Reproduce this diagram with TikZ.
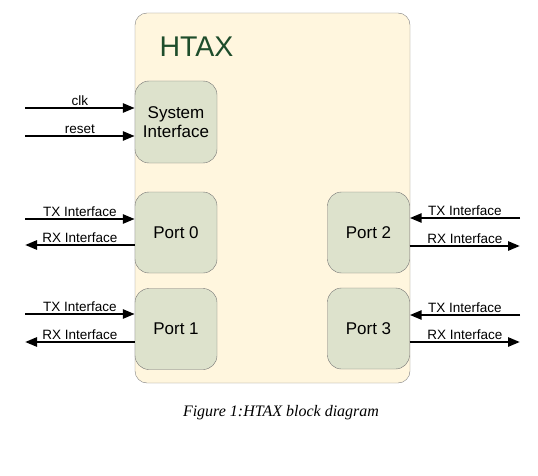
\documentclass[tikz,border=0pt]{standalone}
\usepackage{fontspec}
\setmainfont{Liberation Serif}
\newfontfamily\arial{Liberation Sans}
\usetikzlibrary{arrows.meta}
\definecolor{htaxfill}{HTML}{FFF6DE}
\definecolor{portfill}{HTML}{DDE2CC}
\definecolor{htaxgreen}{HTML}{1E4D2B}
\tikzset{
  block/.style={draw=gray!90!black,fill=portfill,rounded corners=14pt,minimum width=82pt,minimum height=81pt,align=center,font=\arial\fontsize{17}{19}\selectfont},
  sig/.style={line width=2.6pt,-{Triangle[length=12pt,width=9pt]}},
  lbl/.style={above,inner sep=1.5pt,font=\arial\fontsize{13.5}{15}\selectfont}
}
\begin{document}
\begin{tikzpicture}[x=1pt,y=-1pt]
 \useasboundingbox (0,0) rectangle (538,476);
 \draw[gray,fill=htaxfill,rounded corners=12pt] (135,13) rectangle (410,383);
 \node[text=htaxgreen,font=\arial\fontsize{28.5}{30}\selectfont,anchor=west] (title) at (156,47) {HTAX};
 \node[block,minimum height=82pt] (sys) at (176,122) {System\\Interface};
 \node[block] (port0) at (176,232.5) {Port 0};
 \node[block] (port1) at (176,329) {Port 1};
 \node[block] (port2) at (368.5,232.5) {Port 2};
 \node[block] (port3) at (368.5,328.5) {Port 3};
 % free ends
 \coordinate (clk) at (25,108);
 \coordinate (reset) at (25,136);
 \coordinate (tx0) at (25,219);
 \coordinate (rx0) at (25,245);
 \coordinate (tx1) at (25,314);
 \coordinate (rx1) at (25,342);
 \coordinate (tx2) at (520,218);
 \coordinate (rx2) at (520,246);
 \coordinate (tx3) at (520,315);
 \coordinate (rx3) at (520,342);
 % left side
 \draw[sig] (clk) -- (clk -| sys.west) node[lbl,midway] {clk};
 \draw[sig] (reset) -- (reset -| sys.west) node[lbl,midway] {reset};
 \draw[sig] (tx0) -- (tx0 -| port0.west) node[lbl,midway] {TX Interface};
 \draw[sig] (rx0 -| port0.west) -- (rx0) node[lbl,midway] {RX Interface};
 \draw[sig] (tx1) -- (tx1 -| port1.west) node[lbl,midway] {TX Interface};
 \draw[sig] (rx1 -| port1.west) -- (rx1) node[lbl,midway] {RX Interface};
 % right side
 \draw[sig] (tx2) -- (tx2 -| port2.east) node[lbl,midway] {TX Interface};
 \draw[sig] (rx2 -| port2.east) -- (rx2) node[lbl,midway] {RX Interface};
 \draw[sig] (tx3) -- (tx3 -| port3.east) node[lbl,midway] {TX Interface};
 \draw[sig] (rx3 -| port3.east) -- (rx3) node[lbl,midway] {RX Interface};
 \node[font=\itshape\fontsize{16}{18}\selectfont] (caption) at (281,413) {Figure 1:HTAX block diagram};
\end{tikzpicture}
\end{document}
